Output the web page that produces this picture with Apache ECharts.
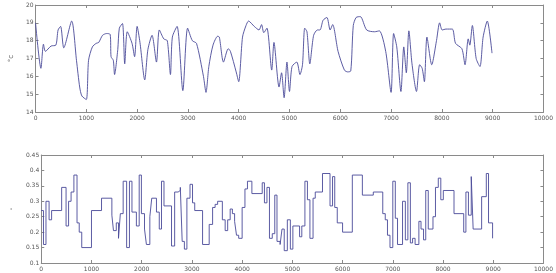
<!DOCTYPE html>
<html>
<head>
<meta charset="utf-8">
<script src="https://cdn.jsdelivr.net/npm/echarts@6/dist/echarts.min.js"></script>
<style>
  html, body { margin: 0; padding: 0; background: #fff; }
  #chart { width: 556px; height: 273px; }
</style>
</head>
<body>
<div id="chart"></div>
<script>
// Top panel: temperature trace (°c) against sample number
const tempX = [0, 106, 156, 194, 306, 400, 444, 494, 556, 712, 806, 869, 912, 1000,
  1044, 1119, 1194, 1244, 1319, 1400, 1469, 1487, 1531, 1556, 1619, 1650, 1712, 1756,
  1806, 1900, 1950, 2000, 2056, 2150, 2212, 2294, 2381, 2437, 2525, 2594, 2656, 2694,
  2787, 2900, 2994, 3087, 3169, 3306, 3356, 3412, 3494, 3587, 3619, 3700, 3794, 3837,
  3950, 4000, 4075, 4144, 4194, 4306, 4400, 4450, 4494, 4556, 4650, 4694, 4794, 4844,
  4894, 4950, 5000, 5050, 5144, 5206, 5256, 5300, 5344, 5400, 5475, 5550, 5600, 5662,
  5737, 5800, 5850, 5956, 6081, 6144, 6206, 6256, 6312, 6394, 6519, 6675, 6769, 6894,
  7000, 7050, 7112, 7194, 7250, 7300, 7350, 7412, 7500, 7562, 7612, 7656, 7706, 7800,
  7894, 7956, 8006, 8081, 8206, 8269, 8394, 8456, 8519, 8550, 8600, 8675, 8750, 8812,
  8894, 8987];
const tempY = [19.0, 16.45, 17.8, 17.4, 17.7, 17.75, 18.6, 18.8, 17.6, 19.1, 16.9, 15.4, 14.9, 14.7,
  16.9, 17.65, 17.85, 17.9, 18.3, 18.4, 18.35, 17.1, 16.9, 16.1, 17.5, 18.7, 18.96, 16.7,
  18.5, 17.85, 17.1, 18.8, 17.9, 15.8, 17.5, 18.3, 16.8, 18.6, 18.1, 18.0, 16.1, 18.2,
  18.8, 15.2, 18.7, 18.0, 17.85, 16.0, 15.1, 16.55, 17.75, 18.25, 18.2, 16.8, 17.55, 17.4,
  16.25, 15.7, 18.2, 18.85, 19.1, 18.8, 18.6, 18.9, 18.45, 18.7, 16.35, 17.9, 15.4, 16.2,
  14.8, 16.8, 15.15, 16.55, 16.8, 16.1, 16.65, 18.7, 18.5, 16.7, 18.3, 18.6, 18.6, 19.15,
  19.3, 18.6, 18.9, 17.4, 16.35, 16.25, 16.3, 18.85, 19.3, 19.35, 18.6, 18.5, 18.55, 17.4,
  15.1, 18.4, 17.65, 15.15, 17.65, 16.2, 18.55, 16.7, 15.15, 16.65, 16.45, 15.7, 18.2, 16.65,
  18.0, 19.0, 18.6, 18.65, 18.65, 17.85, 17.55, 16.65, 18.1, 17.75, 18.85, 17.0, 16.55, 18.2,
  19.1, 17.3];

// Bottom panel: stepwise parameter, each value holds from its x until the next one
const stepX = [0, 44, 94, 156, 206, 406, 494, 544, 594, 650, 712, 756, 806, 1000,
  1200, 1406, 1438, 1494, 1538, 1575, 1631, 1700, 1756, 1806, 1894, 1950, 1994, 2056,
  2094, 2162, 2200, 2294, 2350, 2394, 2444, 2594, 2656, 2725, 2769, 2806, 2850, 2900,
  2962, 3012, 3056, 3212, 3344, 3412, 3462, 3512, 3606, 3662, 3712, 3762, 3806, 3850,
  3888, 3931, 4000, 4056, 4106, 4194, 4400, 4444, 4494, 4544, 4600, 4650, 4694, 4756,
  4794, 4838, 4900, 4960, 5010, 5144, 5188, 5250, 5300, 5350, 5412, 5456, 5600, 5750,
  5800, 5844, 5894, 6000, 6194, 6394, 6612, 6800, 6850, 6894, 6944, 7000, 7050, 7094,
  7194, 7250, 7300, 7350, 7394, 7444, 7519, 7562, 7612, 7656, 7706, 7800, 7850, 7906,
  7956, 8006, 8219, 8412, 8456, 8506, 8562, 8600, 8769, 8862, 8906, 8987, 9000];
const stepY = [0.27, 0.16, 0.30, 0.24, 0.27, 0.345, 0.22, 0.30, 0.33, 0.385, 0.23, 0.20, 0.15, 0.27,
  0.31, 0.255, 0.205, 0.23, 0.18, 0.26, 0.365, 0.15, 0.365, 0.265, 0.22, 0.385, 0.26, 0.21,
  0.16, 0.25, 0.31, 0.265, 0.21, 0.365, 0.285, 0.155, 0.33, 0.335, 0.345, 0.17, 0.145, 0.31,
  0.355, 0.295, 0.27, 0.16, 0.225, 0.28, 0.29, 0.30, 0.24, 0.205, 0.24, 0.275, 0.26, 0.235,
  0.19, 0.18, 0.28, 0.34, 0.365, 0.325, 0.36, 0.295, 0.345, 0.18, 0.195, 0.32, 0.17, 0.16,
  0.21, 0.14, 0.24, 0.145, 0.22, 0.185, 0.22, 0.365, 0.305, 0.18, 0.31, 0.33, 0.39, 0.285,
  0.38, 0.28, 0.23, 0.20, 0.385, 0.32, 0.33, 0.26, 0.24, 0.19, 0.15, 0.365, 0.245, 0.16,
  0.30, 0.175, 0.36, 0.165, 0.18, 0.16, 0.235, 0.21, 0.175, 0.335, 0.21, 0.25, 0.345, 0.375,
  0.305, 0.335, 0.26, 0.20, 0.33, 0.255, 0.38, 0.21, 0.315, 0.39, 0.23, 0.18, 0.18];

const axisGray = '#8a8a8a';
const labelStyle = { fontSize: 6, color: '#555', fontFamily: 'DejaVu Sans' };
const lineColor = '#4a4a98';

// one visible axis plus a mirrored one, so ticks show on all four sides like a boxed plot
const makeX = (gridIndex, position, showLabel) => ({
  type: 'value', gridIndex, position, min: 0, max: 10000, interval: 1000,
  axisLine: { show: true, onZero: false, lineStyle: { color: axisGray, width: 1 } },
  axisTick: { show: true, inside: true, length: 3, lineStyle: { color: axisGray } },
  axisLabel: { show: showLabel, margin: 3, formatter: v => String(v), ...labelStyle },
  splitLine: { show: false }
});
const makeY = (gridIndex, position, min, max, interval, showLabel, name) => ({
  type: 'value', gridIndex, position, min, max, interval,
  name: name || '', nameLocation: 'middle', nameGap: 10, nameRotate: 90,
  nameTextStyle: { fontSize: 7, color: '#555', fontFamily: 'DejaVu Sans' },
  axisLine: { show: true, onZero: false, lineStyle: { color: axisGray, width: 1 } },
  axisTick: { show: true, inside: true, length: 3, lineStyle: { color: axisGray } },
  axisLabel: { show: showLabel, margin: 2, formatter: v => String(v), ...labelStyle },
  splitLine: { show: false }
});

const chart = echarts.init(document.getElementById('chart'), null, { renderer: 'canvas' });
chart.setOption({
  animation: false,
  backgroundColor: '#fff',
  grid: [
    { left: 17, right: 6, top: 5, height: 107 },
    { left: 17, right: 6, top: 155, height: 108 }
  ],
  xAxis: [
    makeX(0, 'bottom', true),
    makeX(0, 'top', false),
    makeX(1, 'bottom', true),
    makeX(1, 'top', false)
  ],
  yAxis: [
    makeY(0, 'left', 14, 20, 1, true, '°c'),
    makeY(0, 'right', 14, 20, 1, false),
    makeY(1, 'left', 0.1, 0.45, 0.05, true, '-'),
    makeY(1, 'right', 0.1, 0.45, 0.05, false)
  ],
  series: [
    {
      type: 'line', xAxisIndex: 0, yAxisIndex: 0,
      data: tempX.map((x, i) => [x, tempY[i]]),
      smooth: 0.25, showSymbol: false,
      lineStyle: { color: lineColor, width: 0.9 }
    },
    {
      type: 'line', xAxisIndex: 2, yAxisIndex: 2,
      data: stepX.map((x, i) => [x, stepY[i]]),
      step: 'end', showSymbol: false,
      lineStyle: { color: lineColor, width: 0.9 }
    }
  ]
});
</script>
</body>
</html>
